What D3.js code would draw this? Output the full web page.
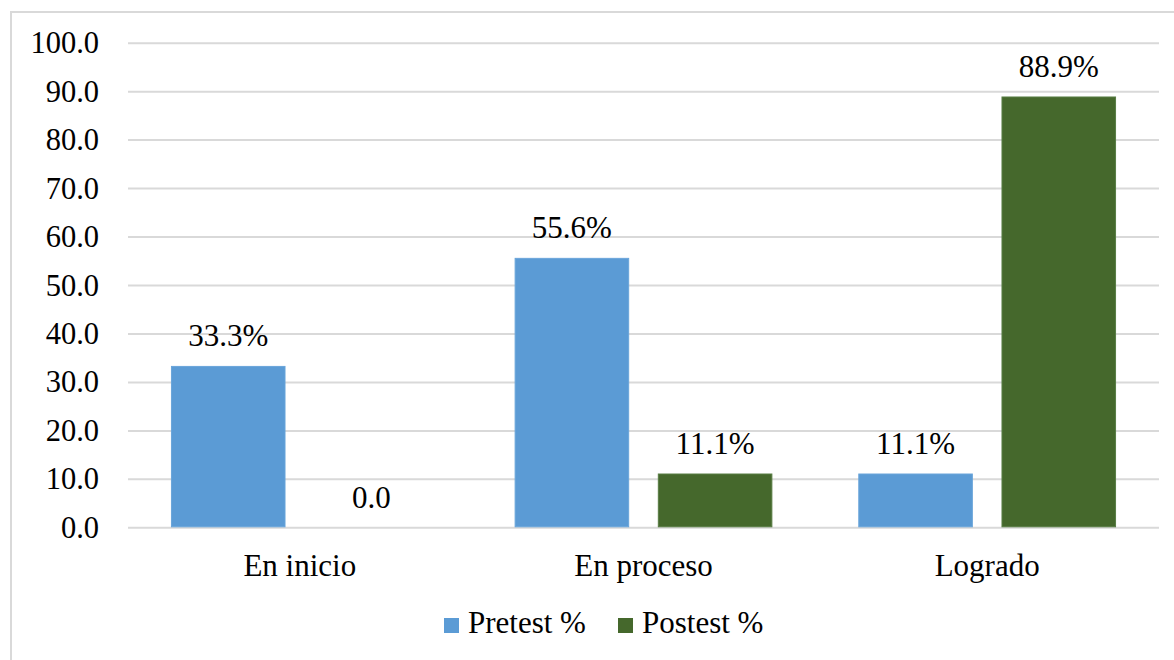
<!DOCTYPE html>
<html>
<head>
<meta charset="utf-8">
<script src="https://cdn.jsdelivr.net/npm/d3@7/dist/d3.min.js"></script>
<style>
  body { margin: 0; background: #fff; }
  svg text { font-family: "Liberation Serif", "Times New Roman", serif; fill: #000; }
</style>
</head>
<body>
<div id="chart"></div>
<script>
// data
var categories = ['En inicio', 'En proceso', 'Logrado'];
var series = ['Pretest %', 'Postest %'];
var pretest = [33.3, 55.6, 11.1];
var postest = [0.0, 11.1, 88.9];
var yTicks = [0, 10, 20, 30, 40, 50, 60, 70, 80, 90, 100];
var colors = ['#5b9bd5', '#45682c'];
var edges = ['#6aa5da', '#587d44'];

var W = 1174, H = 660;
var m = {t:42.7, r:15, b:132.7, l:128};
var fontSize = '31px';

var svg = d3.select('#chart').append('svg')
    .attr('width', W).attr('height', H);

//chart border (cut off at right and bottom like the reference)
svg.append('rect')
    .attr('x', 11).attr('y', 12)
    .attr('width', W + 40).attr('height', H + 40)
    .style('fill', 'none').style('stroke', '#d9d9d9').style('stroke-width', 2);

//Scales
var scaleX = d3.scaleBand().domain(categories).range([m.l, W - m.r]);
var scaleSeries = d3.scaleBand().domain(series)
    .range([0, scaleX.bandwidth()])
    .paddingInner(0.2).paddingOuter(0.3);
var scaleY = d3.scaleLinear().domain([0, 100]).range([H - m.b, m.t]);

//Gridlines + tick labels
var axisY = d3.axisLeft().scale(scaleY)
    .tickValues(yTicks)
    .tickSize(-(W - m.r - m.l))
    .tickFormat(d3.format('.1f'));
var axisNode = svg.append('g').attr('class', 'axis')
    .attr('transform', 'translate(' + m.l + ',0)');
axisY(axisNode);
axisNode.attr('font-family', null).attr('font-size', null);
axisNode.select('.domain').remove();
axisNode.selectAll('line').style('stroke', '#d9d9d9').style('stroke-width', 2);
axisNode.selectAll('text')
    .attr('x', -29).attr('dy', '0.33em')
    .style('font-size', '30.5px')
    .style('fill', '#000');

//Bars
var rows = categories.map(function(c, i){
  return [{cat:c, s:series[0], v:pretest[i], k:0}, {cat:c, s:series[1], v:postest[i], k:1}];
});

var groups = svg.selectAll('.group')
    .data(rows)
    .enter().append('g').attr('class', 'group')
    .attr('transform', function(d){ return 'translate(' + scaleX(d[0].cat) + ',0)'; });

groups.selectAll('rect')
    .data(function(d){ return d.filter(function(e){ return e.v > 0; }); })
    .enter().append('rect')
    .attr('x', function(d){ return scaleSeries(d.s) + 0.5; })
    .attr('width', scaleSeries.bandwidth() - 1)
    .attr('y', function(d){ return scaleY(d.v) + 0.5; })
    .attr('height', function(d){ return scaleY(0) - scaleY(d.v) - 1; })
    .style('fill', function(d){ return colors[d.k]; })
    .style('stroke', function(d){ return edges[d.k]; })
    .style('stroke-width', 1);

//Data labels
groups.selectAll('.label')
    .data(function(d){ return d; })
    .enter().append('text').attr('class', 'label')
    .attr('x', function(d){ return scaleSeries(d.s) + scaleSeries.bandwidth() / 2; })
    .attr('y', function(d){ return scaleY(d.v) - 19.5; })
    .attr('text-anchor', 'middle')
    .style('font-size', fontSize)
    .text(function(d){ return d.v === 0 ? '0.0' : d.v.toFixed(1) + '%'; });

//Category labels
svg.selectAll('.cat')
    .data(categories)
    .enter().append('text').attr('class', 'cat')
    .attr('x', function(d){ return scaleX(d) + scaleX.bandwidth() / 2; })
    .attr('y', 576)
    .attr('text-anchor', 'middle')
    .style('font-size', fontSize)
    .text(function(d){ return d; });

//Legend
var legendX = [444, 618];
var legend = svg.selectAll('.legend')
    .data(series)
    .enter().append('g').attr('class', 'legend')
    .attr('transform', function(d, i){ return 'translate(' + legendX[i] + ',618)'; });
legend.append('rect')
    .attr('width', 15).attr('height', 15)
    .style('fill', function(d, i){ return colors[i]; });
legend.append('text')
    .attr('x', 24).attr('y', 15)
    .style('font-size', fontSize)
    .text(function(d){ return d; });
</script>
</body>
</html>
